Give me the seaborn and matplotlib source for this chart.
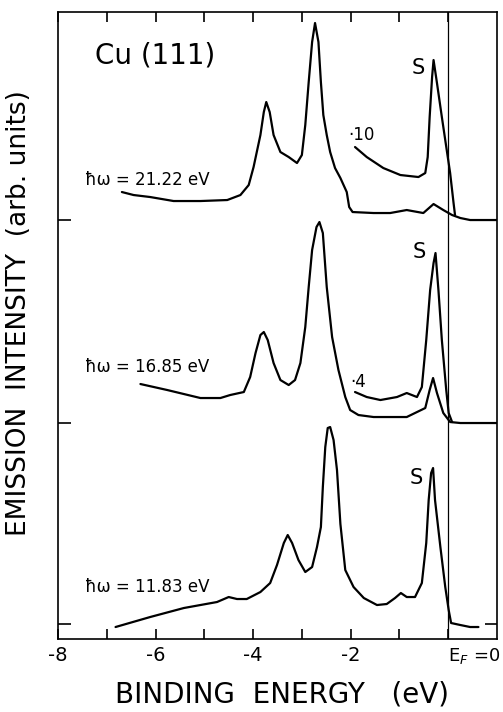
import numpy as np
import pandas as pd
import matplotlib
matplotlib.use("Agg")
import matplotlib.pyplot as plt
import seaborn as sns

# binding energy (eV) and intensity above each baseline (arb. units)
e_2122 = [-6.69, -6.45, -6.11, -5.63, -5.08, -4.53, -4.26, -4.09, -3.99, -3.85, -3.78, -3.73,
          -3.66, -3.58, -3.44, -3.27, -3.10, -3.00, -2.93, -2.86, -2.79, -2.73, -2.66, -2.61,
          -2.56, -2.49, -2.42, -2.32, -2.21, -2.08, -2.03, -1.96, -1.53, -1.19, -0.85, -0.51,
          -0.30, -0.10, 0.08, 0.25, 0.45, 1.00]
i_2122 = [0.28, 0.25, 0.23, 0.19, 0.19, 0.20, 0.25, 0.35, 0.53, 0.85, 1.08, 1.18,
          1.08, 0.85, 0.68, 0.63, 0.57, 0.65, 0.95, 1.38, 1.78, 1.97, 1.78, 1.38,
          1.05, 0.85, 0.68, 0.52, 0.42, 0.28, 0.13, 0.08, 0.07, 0.07, 0.10, 0.07,
          0.16, 0.10, 0.05, 0.02, 0.00, 0.00]
e_2122x = [-1.91, -1.67, -1.33, -0.98, -0.61, -0.47, -0.42, -0.38, -0.33, -0.30, -0.23, -0.13,
           -0.03, 0.04, 0.11, 0.14]
i_2122x = [0.73, 0.63, 0.52, 0.45, 0.43, 0.47, 0.63, 1.03, 1.43, 1.60, 1.37, 1.03,
           0.70, 0.47, 0.17, 0.05]

e_1685 = [-6.31, -5.76, -5.08, -4.67, -4.47, -4.19, -4.06, -3.95, -3.85, -3.78, -3.70, -3.58,
          -3.44, -3.27, -3.14, -3.03, -2.93, -2.86, -2.79, -2.70, -2.64, -2.57, -2.49, -2.38,
          -2.25, -2.11, -2.01, -1.84, -1.53, -0.85, -0.47, -0.38, -0.31, -0.23, -0.10, 0.04,
          0.25, 1.00]
i_1685 = [0.39, 0.33, 0.25, 0.25, 0.28, 0.31, 0.46, 0.70, 0.88, 0.91, 0.83, 0.60,
          0.43, 0.38, 0.43, 0.60, 0.96, 1.36, 1.73, 1.96, 2.01, 1.90, 1.36, 0.86,
          0.53, 0.26, 0.13, 0.08, 0.06, 0.06, 0.15, 0.33, 0.45, 0.30, 0.10, 0.01,
          0.00, 0.00]
e_1685x = [-1.91, -1.67, -1.39, -1.05, -0.85, -0.64, -0.54, -0.45, -0.37, -0.30, -0.26, -0.20,
           -0.13, -0.04, 0.01, 0.08]
i_1685x = [0.31, 0.26, 0.23, 0.26, 0.30, 0.26, 0.36, 0.83, 1.33, 1.60, 1.70, 1.33,
           0.83, 0.33, 0.10, 0.01]

e_1183 = [-6.82, -6.11, -5.42, -4.74, -4.50, -4.33, -4.13, -3.85, -3.65, -3.51, -3.37, -3.29,
          -3.20, -3.07, -2.93, -2.79, -2.69, -2.61, -2.57, -2.52, -2.47, -2.42, -2.35, -2.28,
          -2.21, -2.11, -1.94, -1.73, -1.46, -1.26, -1.09, -0.97, -0.85, -0.68, -0.54, -0.45,
          -0.40, -0.35, -0.31, -0.27, -0.16, -0.06, 0.01, 0.06, 0.25, 0.45, 0.62]
i_1183 = [-0.03, 0.07, 0.16, 0.22, 0.27, 0.25, 0.25, 0.32, 0.41, 0.59, 0.81, 0.89,
          0.81, 0.64, 0.52, 0.57, 0.77, 0.97, 1.37, 1.77, 1.96, 1.97, 1.84, 1.54,
          1.00, 0.54, 0.37, 0.26, 0.19, 0.20, 0.26, 0.31, 0.27, 0.27, 0.41, 0.81,
          1.24, 1.51, 1.56, 1.24, 0.77, 0.37, 0.14, 0.01, -0.01, -0.03, -0.03]

baselines = [4.19, 2.16, 0.15]
photon_labels = ["ħω = 21.22 eV", "ħω = 16.85 eV", "ħω = 11.83 eV"]
scale_labels = ["·10", "·4"]
xtick_labels = ["-8", "", "-6", "", "-4", "", "-2", "", "E$_F$ =0"]

sns.set_style("ticks")
plt.rcParams['font.family'] = ['DejaVu Sans']
plt.rcParams['text.color'] = 'black'
plt.rcParams['axes.labelcolor'] = 'black'
plt.rcParams['xtick.color'] = 'black'
plt.rcParams['ytick.color'] = 'black'
plt.rcParams['axes.edgecolor'] = 'black'

fig = plt.figure(figsize=(5.03, 7.12), dpi=100)
ax = fig.add_axes([0.1153, 0.1025, 0.8727, 0.8806])

curves = [(e_2122, i_2122, baselines[0]), (e_2122x, i_2122x, baselines[0]),
          (e_1685, i_1685, baselines[1]), (e_1685x, i_1685x, baselines[1]),
          (e_1183, i_1183, baselines[2])]
for e, i, b in curves:
    d = pd.DataFrame({"E": e, "I": np.array(i) + b})
    sns.lineplot(data=d, x="E", y="I", ax=ax, color="black", lw=1.6,
                 estimator=None, sort=False)

ax.axvline(0, color="black", lw=0.9)

ax.set_xlim(-8, 1)
ax.set_ylim(0, 6.27)
ax.set_xticks(range(-8, 1))
ax.set_xticklabels(xtick_labels, fontsize=14)
for lab in ax.get_xticklabels():
    if lab.get_text().startswith("E"):
        lab.set_ha("left")
        lab.set_x(-0.15)
        lab.set_fontsize(13)
ax.set_yticks(baselines)
ax.set_yticklabels([])
ax.tick_params(axis="x", direction="in", top=True, length=7, width=1.2, pad=5)
ax.tick_params(axis="y", direction="in", right=True, length=9, width=1.2)
for s in ax.spines.values():
    s.set_linewidth(1.2)

ax.set_xlabel("BINDING  ENERGY   (eV)", fontsize=20)
ax.xaxis.set_label_coords(0.51, -0.066)
ax.set_ylabel("EMISSION  INTENSITY  (arb. units)", fontsize=19)
ax.yaxis.set_label_coords(-0.06, 0.52)

ax.text(-7.25, 5.84, "Cu (111)", fontsize=20, va="center")
ax.text(-7.45, 4.59, photon_labels[0], fontsize=12, va="center")
ax.text(-7.45, 2.72, photon_labels[1], fontsize=12, va="center")
ax.text(-7.45, 0.52, photon_labels[2], fontsize=12, va="center")
ax.text(-2.05, 5.04, scale_labels[0], fontsize=12, va="center")
ax.text(-2.0, 2.57, scale_labels[1], fontsize=12, va="center")
for x, y in [(-0.61, 5.71), (-0.59, 3.87), (-0.66, 1.61)]:
    ax.text(x, y, "S", fontsize=15, va="center", ha="center")

fig.savefig("out.png", dpi=100)
